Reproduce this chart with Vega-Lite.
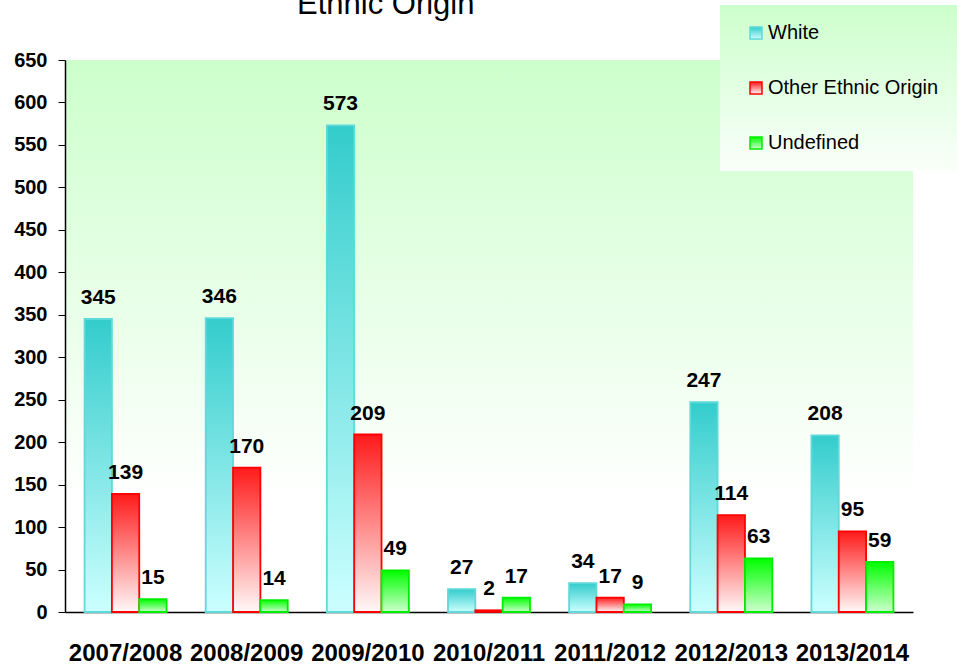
{
  "$schema": "https://vega.github.io/schema/vega-lite/v6.json",
  "autosize": {"type": "none"},
  "width": 848,
  "height": 552,
  "padding": {"left": 65, "top": 60, "right": 44, "bottom": 54},
  "background": "#ffffff",
  "title": {
    "text": "Ethnic Origin",
    "frame": "group",
    "anchor": "start",
    "dx": 232,
    "offset": -40,
    "baseline": "alphabetic",
    "font": "Liberation Sans",
    "fontSize": 31,
    "fontWeight": "normal",
    "color": "#000000"
  },
  "view": {
    "stroke": null,
    "fill": {
      "gradient": "linear", "x1": 0, "y1": 0, "x2": 0, "y2": 1,
      "stops": [{"offset": 0, "color": "#ccffcc"}, {"offset": 0.8, "color": "#ffffff"}, {"offset": 1, "color": "#ffffff"}]
    }
  },
  "config": {
    "font": "Liberation Sans",
    "axis": {"grid": false, "domainColor": "#000000", "tickColor": "#000000", "labelColor": "#000000", "labelFont": "Liberation Sans"}
  },
  "data": {
    "values": [
      {"year": "2007/2008", "group": "White", "count": 345},
      {"year": "2007/2008", "group": "Other Ethnic Origin", "count": 139},
      {"year": "2007/2008", "group": "Undefined", "count": 15},
      {"year": "2008/2009", "group": "White", "count": 346},
      {"year": "2008/2009", "group": "Other Ethnic Origin", "count": 170},
      {"year": "2008/2009", "group": "Undefined", "count": 14},
      {"year": "2009/2010", "group": "White", "count": 573},
      {"year": "2009/2010", "group": "Other Ethnic Origin", "count": 209},
      {"year": "2009/2010", "group": "Undefined", "count": 49},
      {"year": "2010/2011", "group": "White", "count": 27},
      {"year": "2010/2011", "group": "Other Ethnic Origin", "count": 2},
      {"year": "2010/2011", "group": "Undefined", "count": 17},
      {"year": "2011/2012", "group": "White", "count": 34},
      {"year": "2011/2012", "group": "Other Ethnic Origin", "count": 17},
      {"year": "2011/2012", "group": "Undefined", "count": 9},
      {"year": "2012/2013", "group": "White", "count": 247},
      {"year": "2012/2013", "group": "Other Ethnic Origin", "count": 114},
      {"year": "2012/2013", "group": "Undefined", "count": 63},
      {"year": "2013/2014", "group": "White", "count": 208},
      {"year": "2013/2014", "group": "Other Ethnic Origin", "count": 95},
      {"year": "2013/2014", "group": "Undefined", "count": 59}
    ]
  },
  "encoding": {
    "x": {
      "field": "year", "type": "nominal", "title": null, "sort": null,
      "scale": {"paddingInner": 0.323, "paddingOuter": 0.1615},
      "axis": {"labelAngle": 0, "ticks": false, "labelPadding": 29, "labelFontSize": 24, "labelFontWeight": "bold", "domainWidth": 1.5}
    },
    "xOffset": {
      "field": "group", "type": "nominal", "sort": ["White", "Other Ethnic Origin", "Undefined"],
      "scale": {"domain": ["White", "Other Ethnic Origin", "Undefined"], "paddingInner": 0, "paddingOuter": 0}
    },
    "y": {
      "field": "count", "type": "quantitative", "title": null,
      "scale": {"domain": [0, 650], "nice": false},
      "axis": {"values": [0, 50, 100, 150, 200, 250, 300, 350, 400, 450, 500, 550, 600, 650], "tickSize": 7, "labelPadding": 11, "labelFontSize": 20, "labelFontWeight": "bold", "domainWidth": 1.5}
    }
  },
  "layer": [
    {
      "mark": {"type": "bar", "strokeWidth": 1.8},
      "encoding": {
        "fill": {
          "field": "group", "type": "nominal", "title": null,
          "scale": {
            "domain": ["White", "Other Ethnic Origin", "Undefined"],
            "range": [
              {"expr": "{gradient: 'linear', x1: 0, y1: 0, x2: 0, y2: 1, stops: [{offset: 0, color: '#33cccc'}, {offset: 1, color: '#ccffff'}]}"},
              {"expr": "{gradient: 'linear', x1: 0, y1: 0, x2: 0, y2: 1, stops: [{offset: 0, color: '#ff1a1a'}, {offset: 1, color: '#fff8f8'}]}"},
              {"expr": "{gradient: 'linear', x1: 0, y1: 0, x2: 0, y2: 1, stops: [{offset: 0, color: '#00ff00'}, {offset: 1, color: '#ccffcc'}]}"}
            ]
          },
          "legend": {
            "orient": "none",
            "legendX": 655,
            "legendY": -55,
            "padding": 18,
            "symbolType": "square",
            "symbolSize": 144,
            "symbolOffset": 8,
            "symbolStrokeWidth": 1.5,
            "labelOffset": 2,
            "labelFontSize": 20,
            "labelFont": "Liberation Sans",
            "labelColor": "#000000",
            "rowPadding": 35,
            "labelLimit": 400,
            "fillColor": "#e6ffe6",
            "encode": {
              "legend": {"update": {"fill": {"value": {"gradient": "linear", "x1": 0, "y1": 0, "x2": 0, "y2": 1, "stops": [{"offset": 0, "color": "#ccffcc"}, {"offset": 1, "color": "#fafffa"}]}}}}
            }
          }
        },
        "stroke": {
          "field": "group", "type": "nominal", "title": null,
          "scale": {"domain": ["White", "Other Ethnic Origin", "Undefined"], "range": ["#5fd9d9", "#ff0000", "#00ee00"]}
        }
      }
    },
    {
      "mark": {"type": "text", "baseline": "alphabetic", "dy": -15, "fontSize": 21, "fontWeight": "bold", "color": "#000000", "font": "Liberation Sans"},
      "encoding": {
        "text": {"field": "count", "type": "quantitative"}
      }
    }
  ]
}
